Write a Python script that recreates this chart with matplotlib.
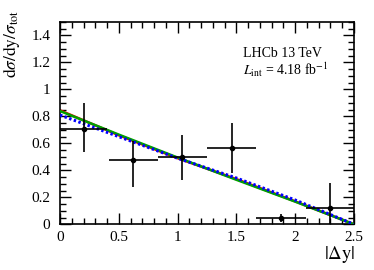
import matplotlib
matplotlib.use("Agg")
import matplotlib.pyplot as plt
from matplotlib.ticker import MultipleLocator

plt.rcParams['font.family'] = ['Liberation Serif', 'DejaVu Serif']
plt.rcParams['mathtext.fontset'] = 'stix'

# data points
x_val = [0.2, 0.62, 1.04, 1.46, 1.88, 2.30]
x_lo = [0.0, 0.417, 0.833, 1.25, 1.67, 2.09]
x_hi = [0.4, 0.833, 1.25, 1.67, 2.09, 2.5]
y_val = [0.71, 0.475, 0.50, 0.563, 0.05, 0.123]
y_err_up = [0.19, 0.145, 0.16, 0.19, 0.03, 0.18]
y_err_dn = [0.175, 0.195, 0.17, 0.185, 0.03, 0.123]

# model curves
red_x = [0.0, 0.5, 1.0, 1.5, 2.0, 2.5]
red_y = [0.845, 0.66, 0.49, 0.335, 0.17, 0.0]
green_x = [0.0, 0.5, 1.0, 1.5, 2.0, 2.5]
green_y = [0.84, 0.665, 0.495, 0.33, 0.168, 0.0]
blue_x = [0.0, 0.5, 1.0, 1.5, 2.0, 2.5]
blue_y = [0.81, 0.65, 0.49, 0.343, 0.18, 0.0]

fig = plt.figure(figsize=(3.74, 2.70), dpi=100)
ax = fig.add_axes([60/374, 1-224.3/270, (354-60)/374, (224.3-22)/270])

ax.plot(red_x, red_y, color='#ff0000', lw=1.8, zorder=2)
ax.plot(green_x, green_y, color='#00a000', lw=1.8, zorder=3)
ax.plot(blue_x, blue_y, color='#0000ff', lw=2.2, ls=(0, (0.8, 0.8)), zorder=4)

xerr = [[v - l for v, l in zip(x_val, x_lo)], [h - v for v, h in zip(x_val, x_hi)]]
ax.errorbar(x_val, y_val, xerr=xerr, yerr=[y_err_dn, y_err_up], fmt='o', color='black',
            ms=3, lw=1.2, capsize=0, zorder=5)

ax.set_xlim(0, 2.5)
ax.set_ylim(0, 1.5)
ax.xaxis.set_minor_locator(MultipleLocator(0.1))
ax.yaxis.set_minor_locator(MultipleLocator(0.05))
ax.set_xticks([0, 0.5, 1, 1.5, 2, 2.5])
ax.set_xticklabels(['0', '0.5', '1', '1.5', '2', '2.5'])
ax.set_yticks([0, 0.2, 0.4, 0.6, 0.8, 1.0, 1.2, 1.4])
ax.set_yticklabels(['0', '0.2', '0.4', '0.6', '0.8', '1', '1.2', '1.4'])
ax.tick_params(which='both', direction='in', top=True, right=True, labelsize=11, width=1)
ax.tick_params(which='major', length=8)
ax.tick_params(which='minor', length=4)
ax.tick_params(axis='x', which='major', pad=5)
ax.tick_params(axis='y', which='major', pad=7)
for s in ax.spines.values():
    s.set_linewidth(1.2)

ax.set_ylabel(r'$\mathrm{d}\sigma/\mathrm{dy}/\sigma_{\mathrm{tot}}$', fontsize=12.5, ha='right')
ax.yaxis.set_label_coords(-0.13, 1.06)
ax.set_xlabel(r'$|\Delta \mathrm{y}|$', fontsize=13.5, ha='right')
ax.xaxis.set_label_coords(1.003, -0.095)

ax.text(0.621, 0.825, 'LHCb 13 TeV', transform=ax.transAxes, fontsize=10, ha='left', va='baseline')
ax.text(0.621, 0.735, r'$L_{\mathrm{int}}$ = 4.18 fb$^{\mathrm{-1}}$', transform=ax.transAxes, fontsize=10, ha='left', va='baseline')

fig.savefig('out.png', dpi=100)
